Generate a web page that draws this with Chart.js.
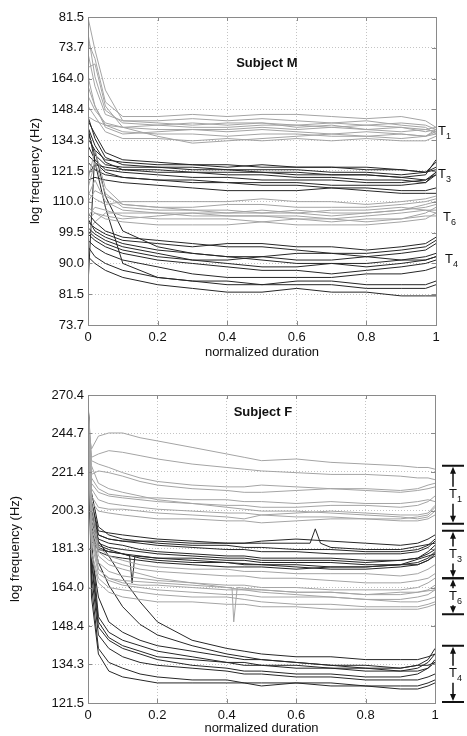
<!DOCTYPE html>
<html>
<head>
<meta charset="utf-8">
<script src="https://cdn.jsdelivr.net/npm/chart.js@4.4.0/dist/chart.umd.min.js"></script>
<style>
  body { margin: 0; background: #fff; }
  .panel { position: absolute; left: 0; width: 467px; height: 368px; }
  #pm { top: 0; }
  #pf { top: 368px; }
</style>
</head>
<body>
<div class="panel" id="pm"><canvas id="cm" width="467" height="368"></canvas></div>
<div class="panel" id="pf"><canvas id="cf" width="467" height="368"></canvas></div>
<script>
// ---- Subject M ----
const xsM = [0, 0.02, 0.05, 0.1, 0.2, 0.3, 0.4, 0.5, 0.6, 0.7, 0.8, 0.9, 0.97, 1];
const ticksM = [73.7, 81.5, 90.0, 99.5, 110.0, 121.5, 134.3, 148.4, 164.0, 181.3, 200.3];
const tickLabelsM = ['73.7', '81.5', '90.0', '99.5', '110.0', '121.5', '134.3', '148.4', '164.0', '73.7', '81.5'];

const mT1 = [
  [190, 165, 148, 142, 141, 142, 141, 142, 140, 141, 139, 140, 138, 139],
  [178, 160, 146, 143, 143, 144, 143, 144, 143, 142, 143, 141, 140, 137],
  [170, 172, 150, 140, 139, 139, 138, 139, 138, 137, 138, 137, 136, 138],
  [160, 150, 141, 138, 137, 137, 136, 137, 137, 136, 136, 135, 136, 137],
  [155, 148, 142, 140, 141, 140, 140, 141, 141, 140, 141, 140, 139, 140],
  [185, 175, 152, 145, 145, 146, 145, 146, 146, 145, 144, 145, 143, 140],
  [150, 145, 138, 135, 135, 134, 135, 134, 135, 134, 135, 134, 134, 136],
  [165, 150, 140, 137, 138, 139, 139, 140, 139, 140, 139, 138, 139, 138],
  [145, 143, 141, 140, 136, 133, 134, 135, 136, 137, 136, 137, 136, 139],
  [200, 180, 158, 143, 142, 141, 142, 142, 141, 142, 141, 142, 141, 139]
];
const mT3 = [
  [145, 135, 127, 124, 123, 122, 122, 121, 121, 120, 120, 119, 118, 121],
  [140, 132, 125, 122, 121, 121, 120, 120, 119, 119, 118, 118, 117, 120],
  [138, 128, 124, 123, 123, 123, 122, 122, 122, 121, 121, 120, 121, 122],
  [132, 126, 122, 121, 120, 119, 119, 118, 118, 118, 117, 117, 118, 120],
  [143, 137, 129, 126, 125, 124, 124, 123, 123, 123, 122, 122, 121, 123],
  [128, 125, 121, 119, 118, 118, 117, 117, 117, 116, 116, 116, 117, 121],
  [135, 130, 126, 125, 124, 124, 123, 124, 123, 123, 123, 122, 121, 125],
  [125, 122, 120, 119, 118, 117, 117, 116, 116, 115, 115, 114, 114, 115],
  [120, 124, 123, 122, 122, 121, 121, 121, 120, 120, 120, 119, 120, 126],
  [118, 119, 118, 117, 116, 115, 114, 114, 114, 115, 114, 113, 113, 113]
];
const mT6 = [
  [112, 118, 110, 107, 106, 106, 106, 107, 106, 105, 106, 107, 108, 109],
  [110, 114, 112, 109, 108, 108, 109, 109, 108, 108, 108, 109, 110, 111],
  [105, 108, 107, 105, 104, 104, 104, 103, 104, 104, 103, 104, 106, 108],
  [115, 125, 113, 108, 107, 107, 107, 106, 107, 106, 106, 107, 109, 110],
  [108, 106, 104, 103, 102, 102, 102, 103, 102, 102, 102, 103, 104, 106],
  [100, 103, 106, 106, 106, 105, 105, 105, 105, 104, 105, 106, 107, 107],
  [113, 111, 109, 110, 110, 110, 110, 111, 110, 110, 109, 110, 111, 112],
  [118, 130, 115, 109, 108, 107, 106, 106, 106, 107, 107, 108, 107, 106],
  [104, 106, 105, 104, 105, 106, 105, 105, 104, 103, 104, 104, 105, 105]
];
const mT4 = [
  [104, 100, 98, 96, 94, 93, 92, 92, 91, 91, 92, 93, 94, 96],
  [101, 99, 97, 95, 93, 91, 90, 89, 89, 90, 90, 91, 92, 93],
  [99, 97, 95, 93, 91, 90, 89, 88, 88, 87, 88, 89, 90, 91],
  [106, 103, 100, 98, 97, 96, 95, 95, 94, 93, 93, 94, 95, 97],
  [97, 95, 93, 91, 89, 87, 86, 86, 86, 86, 87, 87, 88, 89],
  [95, 92, 90, 88, 86, 85, 84, 84, 85, 85, 84, 84, 84, 85],
  [100, 98, 96, 94, 92, 91, 91, 92, 93, 93, 92, 91, 91, 92],
  [92, 90, 88, 86, 84, 83, 82, 82, 83, 82, 82, 81, 81, 81],
  [103, 101, 99, 97, 96, 95, 96, 96, 95, 95, 94, 95, 96, 98],
  [140, 125, 108, 90, 86, 85, 85, 84, 84, 84, 83, 83, 83, 84],
  [84, 130, 112, 100, 95, 93, 92, 91, 90, 90, 89, 90, 91, 92]
];
const labelsM = ['1', '3', '6', '4'];
const labelHzM = [138.3, 120, 104.5, 91.3];

// ---- Subject F ----
const xsF = [0, 0.01, 0.03, 0.06, 0.1, 0.15, 0.2, 0.3, 0.4, 0.45, 0.5, 0.6, 0.7, 0.8, 0.9, 0.95, 0.98, 1];
const ticksF = [121.5, 134.3, 148.4, 164.0, 181.3, 200.3, 221.4, 244.7, 270.4];

const fT1 = [
  [250, 235, 243, 245, 245, 242, 240, 236, 232, 230, 228, 229, 227, 226, 225, 224, 224, 223],
  [262, 230, 232, 234, 233, 231, 229, 226, 224, 223, 222, 221, 220, 220, 219, 218, 218, 217],
  [258, 220, 222, 221, 219, 216, 214, 212, 211, 210, 210, 211, 212, 212, 211, 212, 214, 215],
  [265, 215, 210, 208, 207, 206, 205, 204, 203, 203, 202, 202, 203, 203, 202, 203, 205, 208],
  [255, 212, 206, 204, 203, 202, 201, 200, 199, 199, 198, 199, 200, 199, 198, 198, 199, 203],
  [260, 225, 215, 212, 210, 208, 206, 204, 202, 201, 200, 200, 199, 198, 197, 196, 197, 200],
  [250, 205, 200, 199, 198, 197, 196, 196, 195, 195, 194, 195, 196, 196, 196, 197, 198, 202],
  [257, 218, 212, 209, 208, 207, 207, 206, 206, 205, 205, 204, 205, 204, 204, 205, 206, 205],
  [263, 208, 202, 201, 201, 200, 199, 198, 197, 196, 198, 197, 197, 196, 195, 195, 196, 198],
  [266, 228, 226, 224, 221, 218, 216, 214, 213, 213, 214, 213, 212, 211, 210, 211, 212, 213]
];
const fT3 = [
  [268, 200, 188, 186, 185, 184, 183, 182, 181, 181, 180, 180, 179, 179, 179, 180, 182, 185],
  [270, 195, 184, 182, 181, 180, 179, 178, 177, 177, 176, 176, 176, 175, 176, 177, 180, 183],
  [266, 190, 180, 178, 177, 176, 175, 174, 173, 173, 173, 172, 173, 173, 174, 175, 177, 180],
  [269, 205, 190, 189, 188, 187, 186, 185, 184, 184, 185, 186, 185, 184, 183, 184, 186, 188],
  [264, 185, 181, 180, 179, 178, 177, 177, 176, 176, 175, 175, 175, 174, 174, 174, 176, 178],
  [270, 198, 186, 184, 183, 181, 180, 179, 178, 178, 177, 177, 177, 176, 176, 177, 179, 181],
  [267, 192, 183, 181, 179, 177, 176, 175, 175, 174, 174, 173, 172, 172, 173, 174, 176, 179],
  [268, 210, 192, 188, 186, 185, 184, 183, 183, 182, 182, 181, 181, 180, 180, 181, 183, 186]
];
const fT6 = [
  [262, 200, 180, 176, 174, 172, 171, 170, 169, 169, 168, 168, 167, 166, 166, 167, 168, 170],
  [258, 190, 175, 171, 169, 168, 167, 166, 165, 165, 164, 164, 163, 163, 163, 164, 166, 168],
  [255, 185, 170, 167, 165, 164, 163, 162, 161, 161, 160, 160, 160, 159, 159, 160, 161, 163],
  [260, 195, 178, 174, 172, 170, 168, 166, 164, 163, 162, 161, 160, 159, 158, 158, 159, 160],
  [257, 180, 168, 164, 163, 162, 161, 160, 160, 159, 158, 157, 157, 156, 156, 156, 157, 158],
  [263, 205, 182, 178, 176, 174, 173, 172, 172, 171, 171, 170, 170, 170, 169, 170, 172, 174],
  [259, 188, 172, 168, 166, 165, 165, 164, 163, 163, 163, 162, 162, 161, 162, 162, 163, 165],
  [254, 178, 166, 162, 160, 159, 158, 158, 157, 157, 156, 156, 155, 155, 155, 155, 156, 157]
];
const fT4 = [
  [268, 185, 152, 146, 143, 141, 139, 137, 135, 134, 134, 133, 133, 132, 132, 133, 135, 138],
  [270, 175, 148, 143, 140, 138, 136, 134, 133, 132, 132, 131, 131, 130, 130, 131, 133, 136],
  [265, 170, 145, 140, 137, 135, 134, 133, 132, 131, 131, 130, 130, 129, 129, 129, 130, 131],
  [269, 190, 175, 165, 156, 149, 145, 141, 138, 137, 136, 135, 134, 133, 132, 132, 133, 135],
  [262, 165, 140, 135, 133, 131, 130, 129, 129, 128, 128, 128, 128, 127, 127, 127, 128, 129],
  [270, 180, 160, 150, 146, 143, 141, 139, 137, 136, 136, 135, 134, 134, 133, 134, 136, 140],
  [267, 160, 138, 132, 130, 129, 128, 128, 128, 128, 127, 128, 127, 127, 126, 126, 127, 128],
  [266, 200, 185, 178, 168, 158, 150, 143, 140, 139, 138, 137, 137, 136, 136, 136, 137, 138],
  [268, 178, 150, 144, 141, 139, 137, 136, 135, 135, 134, 134, 133, 133, 133, 134, 134, 135]
];
// lines with a short glitch, each with its own sample positions
const xsSpikeA = [0, 0.01, 0.03, 0.06, 0.1, 0.12, 0.127, 0.135, 0.2, 0.3, 0.4, 0.5, 0.6, 0.7, 0.8, 0.9, 1];
const spikeA = [268, 200, 182, 180, 179, 178, 166, 178, 177, 176, 175, 174, 174, 173, 173, 174, 179];
const xsSpikeB = [0, 0.01, 0.03, 0.06, 0.1, 0.2, 0.3, 0.4, 0.5, 0.6, 0.64, 0.655, 0.67, 0.7, 0.8, 0.9, 1];
const spikeB = [266, 205, 188, 186, 185, 185, 184, 184, 184, 184, 184, 191, 184, 182, 181, 181, 184];
const xsSpikeC = [0, 0.01, 0.03, 0.06, 0.1, 0.2, 0.3, 0.4, 0.415, 0.42, 0.43, 0.5, 0.6, 0.7, 0.8, 0.9, 1];
const spikeC = [256, 190, 172, 168, 167, 166, 165, 164, 164, 150, 164, 163, 162, 162, 161, 161, 163];

const labelsF = ['1', '3', '6', '4'];
const bandsF = [[225, 193.5], [190, 168], [168, 153], [141, 121.8]];

const xTicks = [0, 0.2, 0.4, 0.6, 0.8, 1];
const xTickLabels = ['0', '0.2', '0.4', '0.6', '0.8', '1'];

const FONT = '"Liberation Sans", Arial, sans-serif';
const GRAY = '#a4a4a4';
const DARK = '#262626';

function lines(xs, group, color) {
  return group.map(v => ({
    data: v.map((y, i) => ({ x: xs[i], y: y })),
    borderColor: color,
    borderWidth: 1,
    pointRadius: 0,
    fill: false,
    tension: 0
  }));
}

function drawT(ctx, x, y, sub) {
  ctx.fillStyle = '#111';
  ctx.textAlign = 'left';
  ctx.textBaseline = 'middle';
  ctx.font = '13px ' + FONT;
  ctx.fillText('T', x, y);
  ctx.font = '9px ' + FONT;
  ctx.fillText(sub, x + 8, y + 5);
}

const frame = {
  id: 'frame',
  afterDraw(chart, args, opts) {
    const ctx = chart.ctx, a = chart.chartArea, xs = chart.scales.x, ys = chart.scales.y;
    ctx.save();
    ctx.strokeStyle = '#8a8a8a';
    ctx.lineWidth = 1;
    ctx.strokeRect(Math.round(a.left) + 0.5, Math.round(a.top) + 0.5,
      Math.round(a.right - a.left), Math.round(a.bottom - a.top));
    ctx.beginPath();
    ys.ticks.forEach(t => {
      const y = Math.round(ys.getPixelForValue(t.value)) + 0.5;
      ctx.moveTo(a.left, y); ctx.lineTo(a.left + 4, y);
      ctx.moveTo(a.right - 4, y); ctx.lineTo(a.right, y);
    });
    xs.ticks.forEach(t => {
      const x = Math.round(xs.getPixelForValue(t.value)) + 0.5;
      ctx.moveTo(x, a.top); ctx.lineTo(x, a.top + 4);
      ctx.moveTo(x, a.bottom - 4); ctx.lineTo(x, a.bottom);
    });
    ctx.stroke();

    ctx.fillStyle = '#111';
    ctx.font = 'bold 13px ' + FONT;
    ctx.textAlign = 'center';
    ctx.textBaseline = 'middle';
    ctx.fillText(opts.title, xs.getPixelForValue(opts.titleAt[0]), ys.getPixelForValue(opts.titleAt[1]));

    if (opts.labelHz) {
      const dx = [2, 2, 7, 9];
      opts.labelHz.forEach((hz, i) => drawT(ctx, a.right + dx[i], ys.getPixelForValue(hz), opts.labels[i]));
    }
    if (opts.bands) {
      const x0 = a.right + 7, x1 = a.right + 29, xm = a.right + 18;
      ctx.strokeStyle = '#111';
      ctx.fillStyle = '#111';
      opts.bands.forEach((b, i) => {
        const y1 = ys.getPixelForValue(b[0]), y2 = ys.getPixelForValue(b[1]);
        const mid = (y1 + y2) / 2;
        ctx.lineWidth = 2;
        ctx.beginPath();
        ctx.moveTo(x0, y1); ctx.lineTo(x1, y1);
        ctx.moveTo(x0, y2); ctx.lineTo(x1, y2);
        ctx.stroke();
        ctx.lineWidth = 1.5;
        ctx.beginPath();
        ctx.moveTo(xm, y1 + 6); ctx.lineTo(xm, mid - 8);
        ctx.moveTo(xm, mid + 9); ctx.lineTo(xm, y2 - 6);
        ctx.stroke();
        ctx.beginPath();
        ctx.moveTo(xm, y1 + 1); ctx.lineTo(xm - 3, y1 + 8); ctx.lineTo(xm + 3, y1 + 8); ctx.closePath();
        ctx.moveTo(xm, y2 - 1); ctx.lineTo(xm - 3, y2 - 8); ctx.lineTo(xm + 3, y2 - 8); ctx.closePath();
        ctx.fill();
        drawT(ctx, xm - 4, mid, opts.labels[i]);
      });
    }
    ctx.restore();
  }
};

function makeChart(id, o) {
  return new Chart(document.getElementById(id), {
    type: 'line',
    data: { datasets: o.datasets },
    plugins: [frame],
    options: {
      responsive: false,
      animation: false,
      events: [],
      layout: { padding: o.padding },
      plugins: {
        legend: { display: false },
        tooltip: { enabled: false },
        frame: o.frame
      },
      scales: {
        x: {
          type: 'linear', min: 0, max: 1,
          afterBuildTicks: s => { s.ticks = xTicks.map(v => ({ value: v })); },
          afterFit: s => { s.height = o.xH; },
          ticks: {
            callback: (v, i) => xTickLabels[i],
            font: { size: 13, family: FONT }, color: '#111', padding: 5, maxRotation: 0
          },
          grid: { color: '#c4c4c4', drawTicks: false, tickLength: 0 },
          border: { color: '#8a8a8a', dash: [1, 2] },
          title: { display: true, text: 'normalized duration', font: { size: 13, family: FONT }, color: '#111', padding: 0 }
        },
        y: {
          type: 'logarithmic', min: o.ticks[0], max: o.ticks[o.ticks.length - 1],
          afterBuildTicks: s => { s.ticks = o.ticks.map(v => ({ value: v })); },
          afterFit: s => { s.width = o.yW; },
          ticks: {
            callback: (v, i) => o.tickLabels[i],
            font: { size: 13, family: FONT }, color: '#111', padding: 4, autoSkip: false
          },
          grid: { color: '#c4c4c4', drawTicks: false, tickLength: 0 },
          border: { color: '#8a8a8a', dash: [1, 2] },
          title: { display: true, text: 'log frequency (Hz)', font: { size: 13, family: FONT }, color: '#111', padding: 0 }
        }
      }
    }
  });
}

makeChart('cm', {
  datasets: [].concat(lines(xsM, mT1, GRAY), lines(xsM, mT6, GRAY), lines(xsM, mT3, DARK), lines(xsM, mT4, DARK)),
  ticks: ticksM,
  tickLabels: tickLabelsM,
  padding: { left: 28, top: 17, right: 31, bottom: 8 },
  yW: 60,
  xH: 35,
  frame: { title: 'Subject M', titleAt: [0.514, 172.4], labels: labelsM, labelHz: labelHzM }
});

makeChart('cf', {
  datasets: [].concat(
    lines(xsF, fT1, GRAY), lines(xsF, fT6, GRAY), lines(xsSpikeC, [spikeC], GRAY),
    lines(xsF, fT3, DARK), lines(xsF, fT4, DARK),
    lines(xsSpikeA, [spikeA], DARK), lines(xsSpikeB, [spikeB], DARK)),
  ticks: ticksF,
  tickLabels: ticksF.map(v => v.toFixed(1)),
  padding: { left: 8, top: 27, right: 32, bottom: 0 },
  yW: 80,
  xH: 33,
  frame: { title: 'Subject F', titleAt: [0.504, 258.7], labels: labelsF, bands: bandsF }
});
</script>
</body>
</html>
